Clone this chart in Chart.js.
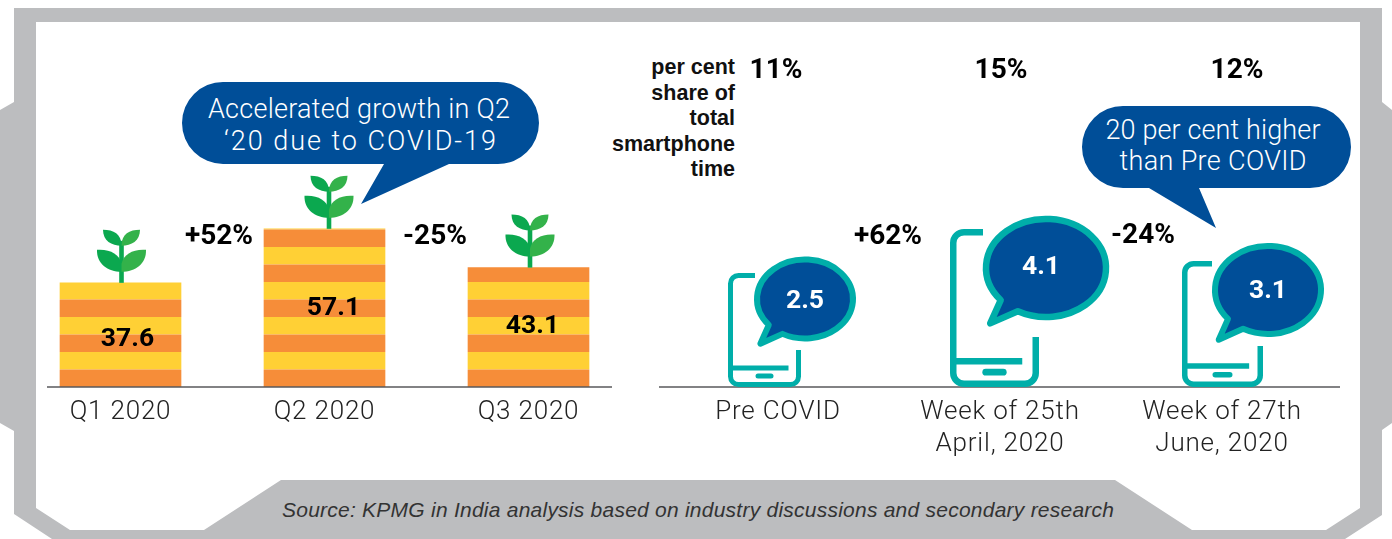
<!DOCTYPE html>
<html>
<head>
<meta charset="utf-8">
<title>Smartphone time</title>
<script src="https://cdn.jsdelivr.net/npm/chart.js@4"></script>
<style>
    html, body { margin: 0; padding: 0; background: #fff; }
    #page { position: relative; width: 1392px; height: 539px; overflow: hidden; }
    #page svg, #page canvas { position: absolute; left: 0; top: 0; }
    .callout { font-family: Roboto, sans-serif; font-weight: 300; font-size: 27px; fill: #fff; text-anchor: middle; }
    .head { font-family: "Liberation Sans", sans-serif; font-weight: bold; font-size: 21.5px; fill: #111; text-anchor: end; }
    .source { font-family: "Liberation Sans", sans-serif; font-style: italic; font-size: 21px; fill: #333; }
</style>
</head>
<body>
<div id="page">
    <svg width="1392" height="539">
        <path fill="#BCBDBF" fill-rule="evenodd" d="M14 8H1382V102L1392 110V423L1382 430V515L1345 539H52L14 514V431L0 423V110L14 102Z
            M36 22V508L70 530H204L281 480H1115L1192 530H1326L1360 508V22Z"/>
        <path fill="#004E98" d="M223 82H498A41 41 0 0 1 498 164H449L361 204L384 164H223A41 41 0 0 1 223 82Z"/>
        <path fill="#004E98" d="M1123 106H1310A41 41 0 0 1 1310 188H1199L1216 228L1149 188H1123A41 41 0 0 1 1123 106Z"/>
        <text class="callout" x="359" y="118" textLength="302">Accelerated growth in Q2</text>
        <text class="callout" x="360" y="150" textLength="272">‘20 due to COVID-19</text>
        <text class="callout" x="1213" y="139" textLength="215">20 per cent higher</text>
        <text class="callout" x="1213" y="170" textLength="187">than Pre COVID</text>
        <text class="head" x="735" y="74">per cent</text>
        <text class="head" x="735" y="100">share of</text>
        <text class="head" x="735" y="125">total</text>
        <text class="head" x="735" y="151">smartphone</text>
        <text class="head" x="735" y="176">time</text>
        <text class="source" x="282" y="517" textLength="832">Source: KPMG in India analysis based on industry discussions and secondary research</text>
    </svg>
    <canvas id="quarterChart" width="1392" height="539"></canvas>
    <canvas id="phoneChart" width="1392" height="539"></canvas>
</div>
<script>
// data
const quarters = ['Q1 2020', 'Q2 2020', 'Q3 2020'];
const quarterValues = [37.6, 57.1, 43.1];
const quarterChanges = ['+52%', '-25%'];

const periods = ['Pre COVID', ['Week of 25th', 'April, 2020'], ['Week of 27th', 'June, 2020']];
const hoursPerDay = [2.5, 4.1, 3.1];
const periodChanges = ['+62%', '-24%'];
const sharePercent = ['11%', '15%', '12%'];

// layout and colours
const AXIS_Y = 387;
const ORANGE = '#F68D39';
const YELLOW = '#FFD035';
const TEAL = '#00AEA9';
const BLUE = '#004E98';
const TICK_FONT = { family: 'Roboto', weight: '300', size: 26, lineHeight: 1.23 };
const VALUE_FONT = 'bold 26.5px Roboto';
const CHANGE_FONT = 'bold 28px Roboto';

const plantOffsets = [1, 4.5, 1.5];
const barLabelOffsets = [{ x: 7, y: 4 }, { x: 9, y: 0 }, { x: 4, y: -1 }];
const quarterChangePos = [{ x: 219, y: 237 }, { x: 435, y: 237 }];
const periodChangePos = [{ x: 888, y: 237 }, { x: 1143, y: 236 }];
const sharePos = [776, 1001, 1237];
const phoneLayout = [
    { cx: 764.5, w: 73, sw: 5, dy: 0, topLen: 27, s: 1 },
    { cx: 994.5, w: 89, sw: 6.5, dy: 0, topLen: 33, s: 1.35 },
    { cx: 1222.5, w: 81, sw: 5.5, dy: 4.5, topLen: 30, s: 1.11 }
];
const bubbleLayout = [
    { cx: 805, cy: 299, rx: 48, ry: 39.5, sw: 6, tx: 805, ty: 301 },
    { cx: 1046, cy: 268, rx: 60, ry: 49, sw: 6.5, tx: 1041, ty: 267 },
    { cx: 1268, cy: 290, rx: 53, ry: 44, sw: 6, tx: 1268, ty: 291 }
];

function stripePattern(ctx) {
    const tile = document.createElement('canvas');
    tile.width = 4;
    tile.height = 35;
    const t = tile.getContext('2d');
    t.fillStyle = YELLOW;
    t.fillRect(0, 0, 4, 17.5);
    t.fillStyle = ORANGE;
    t.fillRect(0, 17.5, 4, 17.5);
    const pattern = ctx.createPattern(tile, 'repeat');
    pattern.setTransform(new DOMMatrix().translate(0, AXIS_Y));
    return pattern;
}

function drawAxisLine(ctx, x0, x1) {
    ctx.strokeStyle = '#58595B';
    ctx.lineWidth = 1.5;
    ctx.beginPath();
    ctx.moveTo(x0, AXIS_Y);
    ctx.lineTo(x1, AXIS_Y);
    ctx.stroke();
}

function drawBoldText(ctx, text, x, y, color, font) {
    ctx.font = font || VALUE_FONT;
    ctx.fillStyle = color;
    ctx.textAlign = 'center';
    ctx.textBaseline = 'middle';
    ctx.fillText(text, x, y);
}

function drawPlant(ctx, x, y) {
    ctx.save();
    ctx.translate(x, y);
    ctx.fillStyle = '#0BA84F';
    ctx.fillRect(-2.3, -42, 4.6, 42);
    // left leaves
    ctx.beginPath();
    ctx.moveTo(-24.5, -33);
    ctx.bezierCurveTo(-12, -34, -2, -29, 0, -19);
    ctx.lineTo(0, -11);
    ctx.bezierCurveTo(-14, -11, -25, -19, -24.5, -33);
    ctx.fill();
    ctx.beginPath();
    ctx.moveTo(-18.5, -53);
    ctx.bezierCurveTo(-8, -53, 0, -49, 0, -37);
    ctx.bezierCurveTo(-10, -37, -18.5, -42, -18.5, -53);
    ctx.fill();
    // right leaves are a lighter green
    ctx.fillStyle = '#33B24A';
    ctx.beginPath();
    ctx.moveTo(24.5, -33);
    ctx.bezierCurveTo(12, -34, 2, -29, 0, -19);
    ctx.lineTo(0, -11);
    ctx.bezierCurveTo(14, -11, 25, -19, 24.5, -33);
    ctx.fill();
    ctx.beginPath();
    ctx.moveTo(18.5, -53);
    ctx.bezierCurveTo(8, -53, 0, -49, 0, -37);
    ctx.bezierCurveTo(10, -37, 18.5, -42, 18.5, -53);
    ctx.fill();
    ctx.restore();
}

function drawPhone(ctx, p, top, bottom) {
    const half = p.sw / 2;
    const left = p.cx - p.w / 2 + half;
    const right = p.cx + p.w / 2 - half;
    const yTop = top + half;
    const yBottom = bottom - half;
    const r = 8 * p.s;
    ctx.strokeStyle = TEAL;
    ctx.lineWidth = p.sw;
    ctx.lineCap = 'butt';
    ctx.beginPath();
    ctx.moveTo(left - half + p.topLen, yTop);
    ctx.arcTo(left, yTop, left, yBottom, r);
    ctx.arcTo(left, yBottom, right, yBottom, r);
    ctx.arcTo(right, yBottom, right, yTop, r);
    ctx.lineTo(right, bottom - 37 * p.s);
    ctx.stroke();
    // screen line
    ctx.beginPath();
    ctx.moveTo(left, bottom - 19 * p.s);
    ctx.lineTo(right - 10 * p.s, bottom - 19 * p.s);
    ctx.stroke();
    // home button
    ctx.fillStyle = TEAL;
    ctx.beginPath();
    ctx.roundRect(p.cx - 9 * p.s, bottom - 11 * p.s - 2.5 * p.s, 18 * p.s, 5 * p.s, 2.5 * p.s);
    ctx.fill();
}

function drawBubble(ctx, b, text) {
    const a0 = 139 * Math.PI / 180;
    const a1 = 118 * Math.PI / 180;
    ctx.beginPath();
    ctx.ellipse(b.cx, b.cy, b.rx, b.ry, 0, a0, a1 + Math.PI * 2);
    ctx.lineTo(b.cx - 0.93 * b.rx, b.cy + 1.13 * b.ry);
    ctx.closePath();
    ctx.fillStyle = BLUE;
    ctx.fill();
    ctx.strokeStyle = TEAL;
    ctx.lineWidth = b.sw;
    ctx.lineJoin = 'round';
    ctx.stroke();
    drawBoldText(ctx, text, b.tx, b.ty, '#fff');
}

// tick labels in the original run wider than Roboto Light
const tickSpacing = {
    id: 'tickSpacing',
    beforeDraw(chart) { chart.ctx.letterSpacing = '0.8px'; },
    afterDraw(chart) { chart.ctx.letterSpacing = '0px'; }
};

const quarterDecor = {
    id: 'quarterDecor',
    afterDatasetsDraw(chart) {
        const ctx = chart.ctx;
        const bars = chart.getDatasetMeta(0).data;
        ctx.save();
        ctx.letterSpacing = '0px';
        drawAxisLine(ctx, 47, 612);
        bars.forEach((bar, i) => {
            drawPlant(ctx, bar.x + plantOffsets[i], bar.y);
            const label = barLabelOffsets[i];
            drawBoldText(ctx, quarterValues[i].toFixed(1), bar.x + label.x, (bar.y + bar.base) / 2 + label.y, '#000');
        });
        quarterChanges.forEach((t, i) => drawBoldText(ctx, t, quarterChangePos[i].x, quarterChangePos[i].y, '#000', CHANGE_FONT));
        ctx.restore();
    }
};

const phoneDecor = {
    id: 'phoneDecor',
    afterDatasetsDraw(chart) {
        const ctx = chart.ctx;
        const bars = chart.getDatasetMeta(0).data;
        ctx.save();
        ctx.letterSpacing = '0px';
        drawAxisLine(ctx, 659, 1340);
        bars.forEach((bar, i) => {
            drawPhone(ctx, phoneLayout[i], bar.y + phoneLayout[i].dy, bar.base);
            drawBubble(ctx, bubbleLayout[i], hoursPerDay[i].toFixed(1));
            drawBoldText(ctx, sharePercent[i], sharePos[i], 71, '#000', CHANGE_FONT);
        });
        periodChanges.forEach((t, i) => drawBoldText(ctx, t, periodChangePos[i].x, periodChangePos[i].y, '#000', CHANGE_FONT));
        ctx.restore();
    }
};

function xAxis() {
    return {
        grid: { display: false },
        border: { display: false },
        ticks: { font: TICK_FONT, color: '#222', padding: 2, maxRotation: 0, autoSkip: false },
        afterFit(scale) { scale.height = 539 - AXIS_Y; }
    };
}

const sharedOptions = {
    responsive: false,
    animation: false,
    events: [],
    plugins: { legend: { display: false }, tooltip: { enabled: false } }
};

const quarterCtx = document.getElementById('quarterChart').getContext('2d');
new Chart(quarterCtx, {
    type: 'bar',
    data: {
        labels: quarters,
        datasets: [{ data: quarterValues, backgroundColor: stripePattern(quarterCtx), barThickness: 121 }]
    },
    options: {
        ...sharedOptions,
        layout: { padding: { left: 18.5, right: 761.5, top: 0, bottom: 0 } },
        scales: {
            x: xAxis(),
            y: { display: false, min: 0, max: 387 / 2.77 }
        }
    },
    plugins: [tickSpacing, quarterDecor]
});

// the phones grow from a base below zero, so the scale starts there
const phoneBase = -1.65;
new Chart(document.getElementById('phoneChart').getContext('2d'), {
    type: 'bar',
    data: {
        labels: periods,
        datasets: [{ data: hoursPerDay, base: phoneBase, backgroundColor: 'rgba(0,0,0,0)', barThickness: 73 }]
    },
    options: {
        ...sharedOptions,
        layout: { padding: { left: 667, right: 59, top: 0, bottom: 0 } },
        scales: {
            x: xAxis(),
            y: { display: false, min: phoneBase, max: phoneBase + 387 / 27.5 }
        }
    },
    plugins: [tickSpacing, phoneDecor]
});
</script>
</body>
</html>
